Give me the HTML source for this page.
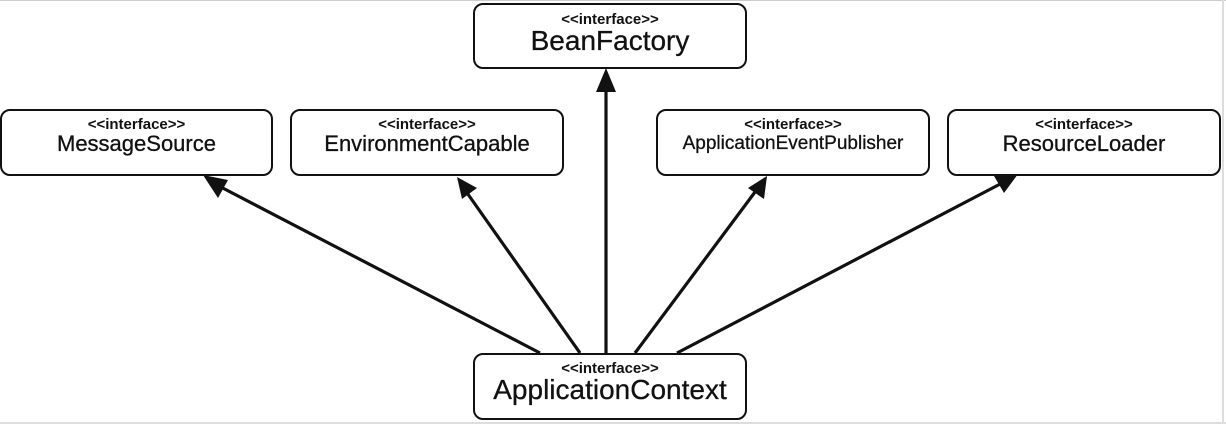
<!DOCTYPE html>
<html><head><meta charset="utf-8"><style>
html,body{margin:0;padding:0;background:#fff;}
body{width:1226px;height:428px;position:relative;overflow:hidden;font-family:"Liberation Sans",sans-serif;}
.b{position:absolute;box-sizing:border-box;border:2.5px solid #111;border-radius:10px;background:#fff;text-align:center;color:#111;}
.s{position:absolute;left:0;right:0;font-size:15px;font-weight:bold;line-height:16px;}
.n{position:absolute;left:0;right:0;font-size:22px;line-height:26px;-webkit-text-stroke:0.3px #111;}
.big .n{font-size:28px;line-height:32px;}
</style></head><body>
<div style="position:absolute;left:0;top:0;width:1226px;height:1px;background:#ccc"></div>
<div style="position:absolute;left:0;top:422px;width:1226px;height:2px;background:#ddd"></div>
<div style="position:absolute;left:1222px;top:0;width:2px;height:424px;background:#ddd"></div>
<svg width="1226" height="428" style="position:absolute;left:0;top:0">
<g stroke="#111" stroke-width="3.2" fill="none">
<line x1="540" y1="353" x2="215" y2="184"/>
<line x1="580" y1="353" x2="465" y2="190"/>
<line x1="606" y1="353" x2="606" y2="85"/>
<line x1="635" y1="353" x2="758" y2="188"/>
<line x1="677" y1="353" x2="1004" y2="182"/>
</g>
<g fill="#111">
<polygon points="203,175 228,180 218,198"/>
<polygon points="457,177 477,188 462,199"/>
<polygon points="606,68 616,92 596,92"/>
<polygon points="767,176 764,199 748,188"/>
<polygon points="1018,174 1004,193 994,176"/>
</g>
</svg>
<div class="b big" style="left:473px;top:3px;width:274px;height:66px"><div class="s" style="top:7px">&lt;&lt;interface&gt;&gt;</div><div class="n" style="top:20px">BeanFactory</div></div>
<div class="b" style="left:0;top:109px;width:273px;height:67px"><div class="s" style="top:6px">&lt;&lt;interface&gt;&gt;</div><div class="n" style="top:20px">MessageSource</div></div>
<div class="b" style="left:290px;top:109px;width:274px;height:67px"><div class="s" style="top:6px">&lt;&lt;interface&gt;&gt;</div><div class="n" style="top:20px">EnvironmentCapable</div></div>
<div class="b" style="left:656px;top:109px;width:274px;height:67px"><div class="s" style="top:6px">&lt;&lt;interface&gt;&gt;</div><div class="n" style="top:20px;font-size:19px">ApplicationEventPublisher</div></div>
<div class="b" style="left:947px;top:109px;width:274px;height:67px"><div class="s" style="top:6px">&lt;&lt;interface&gt;&gt;</div><div class="n" style="top:20px">ResourceLoader</div></div>
<div class="b big" style="left:473px;top:353px;width:274px;height:67px"><div class="s" style="top:6px">&lt;&lt;interface&gt;&gt;</div><div class="n" style="top:19px">ApplicationContext</div></div>
</body></html>
